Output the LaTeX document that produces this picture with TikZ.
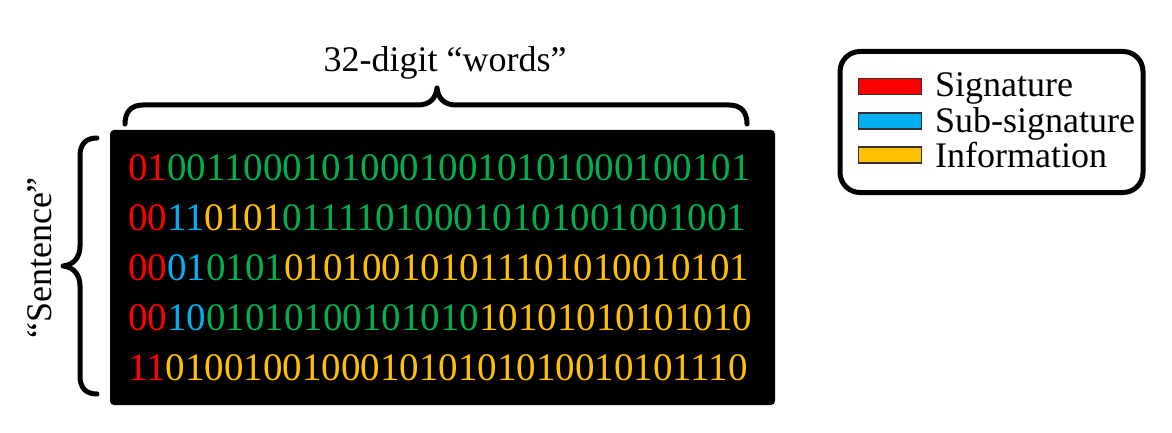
\documentclass[tikz,border=0pt]{standalone}
\usepackage{fontspec}
\setmainfont{Liberation Serif}
\definecolor{sigred}{HTML}{FF0000}
\definecolor{subblue}{HTML}{00B0F0}
\definecolor{infyellow}{HTML}{FFC000}
\definecolor{datgreen}{HTML}{00B050}
\newcommand{\Rd}[1]{\textcolor{sigred}{#1}}
\newcommand{\Bl}[1]{\textcolor{subblue}{#1}}
\newcommand{\Yl}[1]{\textcolor{infyellow}{#1}}
\newcommand{\Gr}[1]{\textcolor{datgreen}{#1}}
\begin{document}
\begin{tikzpicture}[x=1pt,y=-1pt,
  bitrow/.style={anchor=base west, inner sep=0pt, font=\fontsize{39}{39}\selectfont},
  lbl/.style={inner sep=0pt, font=\fontsize{36}{36}\selectfont},
  bracepath/.style={line width=5pt, line cap=round, line join=round},
  swatch/.style={draw=black!80, line width=1.5pt, minimum width=63pt, minimum height=16pt, inner sep=0pt}]
\useasboundingbox (0,0) rectangle (1172,433);
\fill[white] (0,0) rectangle (1172,433);
% black box
\node[fill=black, rounded corners=4pt, minimum width=665pt, minimum height=275pt, inner sep=0pt] (box) at (442.5,267.5) {};
% rows
\node[bitrow] (r1) at (128,180) {\Rd{01}\Gr{001100010100010010101000100101}};
\node[bitrow] (r2) at (128,230) {\Rd{00}\Bl{11}\Yl{0101}\Gr{011110100010101001001001}};
\node[bitrow] (r3) at (128,280) {\Rd{00}\Bl{01}\Gr{0101}\Yl{010100101011101010010101}};
\node[bitrow] (r4) at (128,330) {\Rd{00}\Bl{10}\Gr{01010100101010}\Yl{10101010101010}};
\node[bitrow] (r5) at (128,380) {\Rd{11}\Yl{010010010001010101010010101110}};
% top brace
\draw[bracepath] (125,124) .. controls (125,112) and (131,105) .. (143,105) -- (418,105)
  .. controls (430,105) and (436,98) .. (437,88)
  .. controls (438,98) and (444,105) .. (456,105) -- (729,105)
  .. controls (741,105) and (747,112) .. (747,124);
\node[lbl, anchor=base] (words) at (445,72) {32-digit “words”};
% left brace
\draw[bracepath] (97,138) .. controls (86,138) and (80,144) .. (80,156) -- (80,246)
  .. controls (80,258) and (73,265) .. (63,266)
  .. controls (73,267) and (80,274) .. (80,286) -- (80,376)
  .. controls (80,388) and (86,394) .. (97,394);
\node[lbl, rotate=90] (sentence) at (40,258) {“Sentence”};
% legend
\node[draw=black, line width=5pt, rounded corners=20pt, minimum width=303pt, minimum height=141pt, inner sep=0pt] (legend) at (991.5,122) {};
\node[swatch, fill=sigred] (s1) at (890,86.5) {};
\node[swatch, fill=subblue] (s2) at (890,121) {};
\node[swatch, fill=infyellow] (s3) at (890,155) {};
\node[lbl, anchor=base west] (t1) at (935,97) {Signature};
\node[lbl, anchor=base west] (t2) at (935,132) {Sub-signature};
\node[lbl, anchor=base west] (t3) at (935,167) {Information};
\end{tikzpicture}
\end{document}
